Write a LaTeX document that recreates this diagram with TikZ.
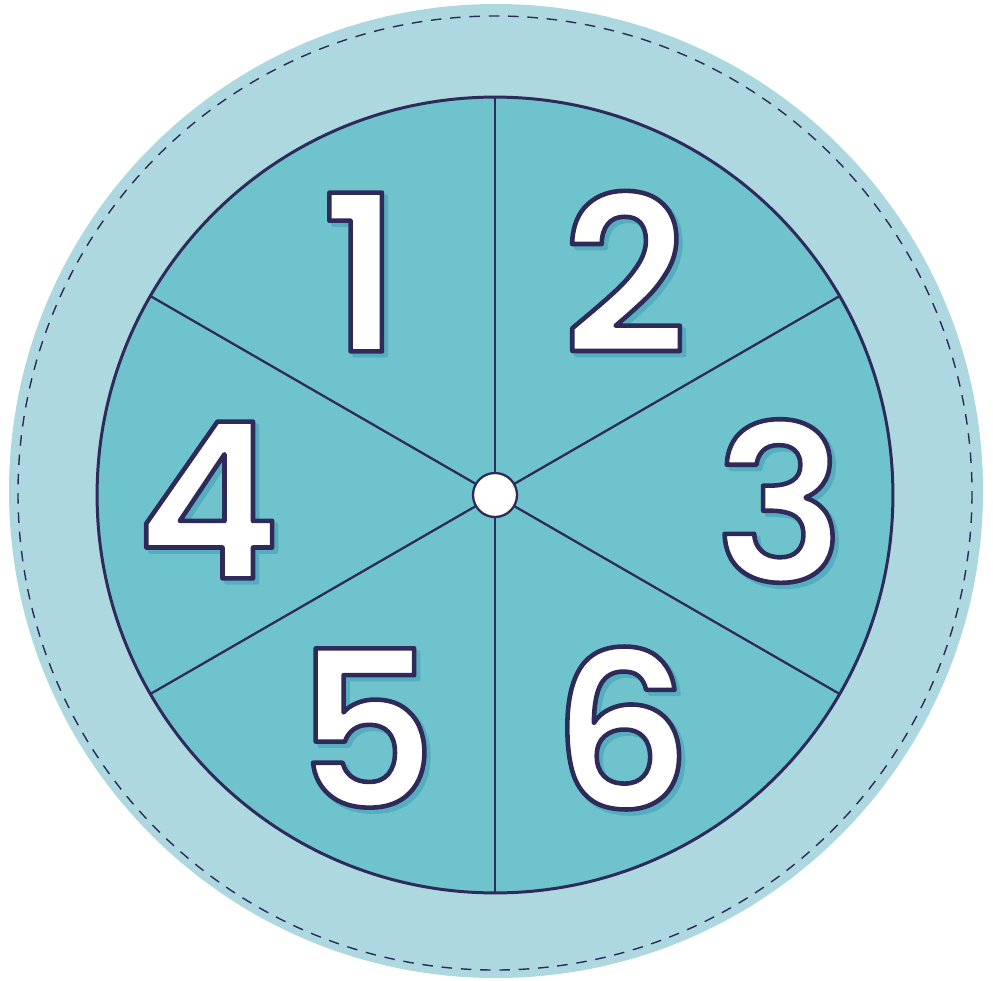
\documentclass[tikz,border=0pt]{standalone}
\usepackage{fontspec}
\newfontfamily\digitfont{Poppins SemiBold}
\definecolor{rim}{HTML}{ADD8E0}
\definecolor{face}{HTML}{6FC3CD}
\definecolor{ink}{HTML}{2E2A5A}
\definecolor{shade}{HTML}{55AEC0}
% filled and outlined glyphs (text render mode 2)
\newcommand{\outlined}[2]{\special{pdf:literal direct 2 Tr 2.6 w 1 j #1 RG}#2\special{pdf:literal direct 0 Tr}}

\begin{document}
\begin{tikzpicture}[x=0.02cm,y=-0.02cm,
  digit/.style={font=\digitfont\fontsize{124}{124}\selectfont,inner sep=0pt},
  spoke/.style={draw=ink,line width=1.3pt}]
\useasboundingbox (0,0) rectangle (993,980);
% outer ring
\fill[rim] (496,491) circle (487);
\draw[ink,line width=0.8pt,dash pattern=on 6pt off 5pt] (495,493) circle (477);
% wheel face
\node[circle,fill=face,minimum size=796*0.02cm,inner sep=0pt] (wheel) at (495,495) {};
\foreach \a in {90,30,-30,-90,-150,150}
  \coordinate (r\a) at ([shift={(\a:7.96cm)}]wheel.center);
\foreach \a in {90,30,-30,-90,-150,150}
  \draw[spoke] (wheel.center) -- (r\a);
\draw[ink,line width=1.7pt] (wheel.center) circle (7.96cm);
\node[circle,draw=ink,fill=white,line width=1.3pt,minimum size=44*0.02cm,inner sep=0pt] (hub) at (wheel.center) {};
% numbers
\foreach \n/\x/\y in {1/361/272,2/625/272,3/780/501,4/208/500,5/366/728,6/622/728}{
  \node[digit,text=shade] at (\x+4,\y+4) {\outlined{0.333 0.682 0.753}{\n}};
  \node[digit,text=white] (n\n) at (\x,\y) {\outlined{0.180 0.165 0.353}{\n}};
}
\end{tikzpicture}
\end{document}
